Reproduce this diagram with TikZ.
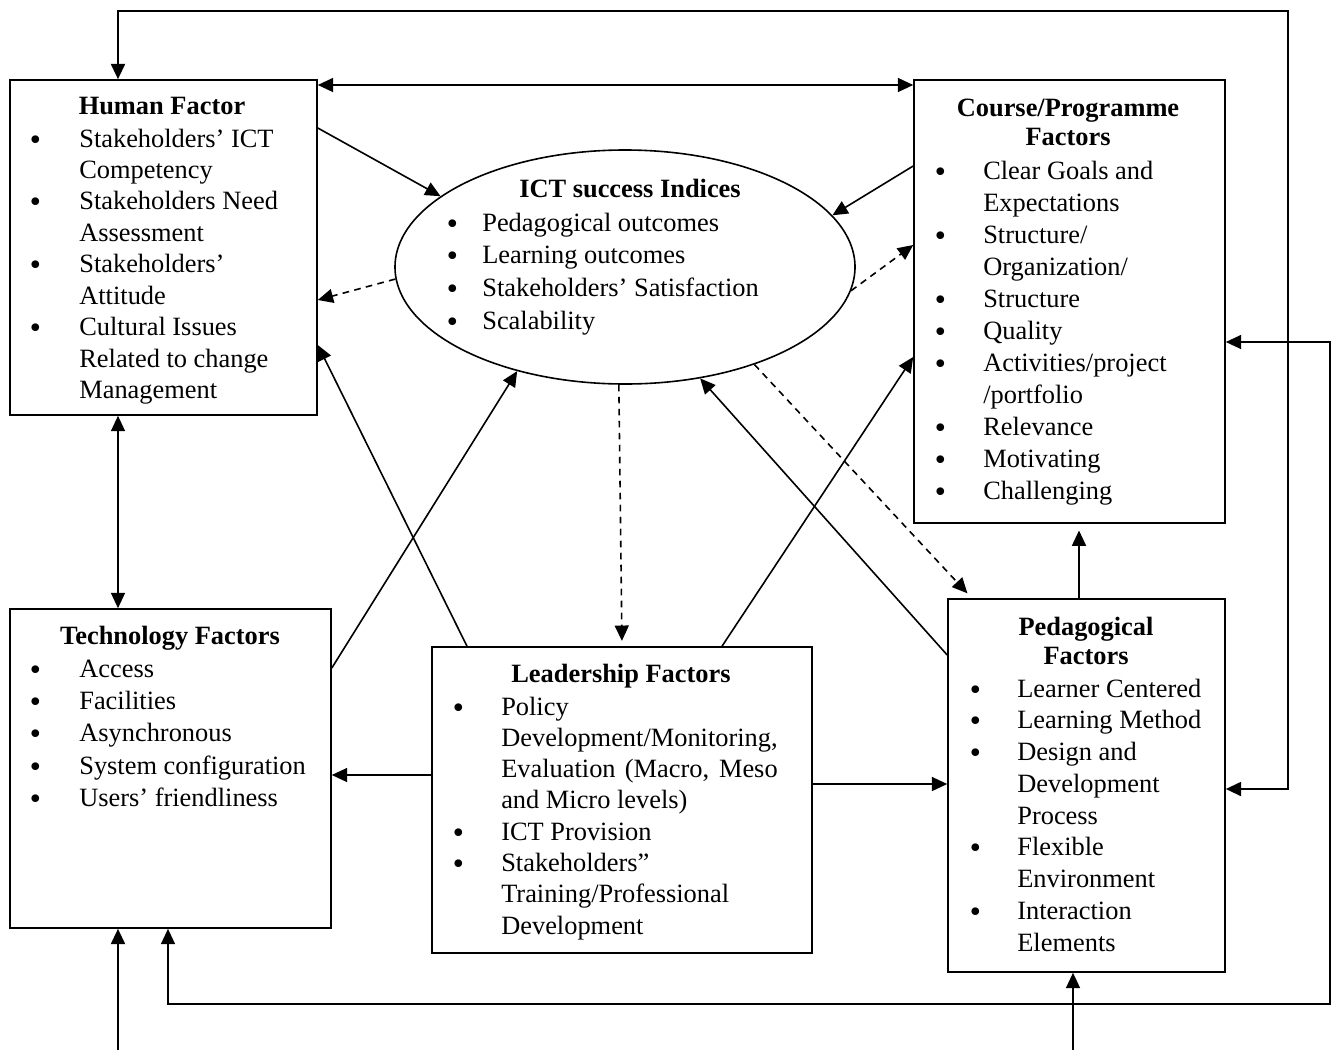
\documentclass[tikz,border=0pt]{standalone}
\usepackage{fontspec}
\setmainfont{Liberation Serif}
\newfontfamily\bulletfont{DejaVu Sans}
\usepackage{calc}
\usetikzlibrary{arrows.meta,shapes.geometric,fit}

% list bullet, a little heavier than the serif one, centred in a 7pt slot
\newcommand\bul{\makebox[7pt]{\raisebox{-1.5pt}{\bulletfont\textbullet}}}
% bullet list set as a two-column tabular: #1 bullet column width, #2 row stretch, #3 rows
\newcommand\bulletlist[3]{{\renewcommand\arraystretch{#2}%
  \begin{tabular}[t]{@{}p{#1}@{}l@{}}#3\end{tabular}}}
% centred (possibly multi-line) heading
\newcommand\headlines[2]{{\renewcommand\arraystretch{#1}%
  \begin{tabular}[t]{@{}c@{}}#2\end{tabular}}}

\begin{document}
\begin{tikzpicture}[x=0.75pt,y=-0.75pt,
  every node/.style={font=\fontsize{19.8}{23.6}\selectfont, inner sep=0pt},
  box/.style={draw, line width=1.2pt, inner sep=0pt},
  link/.style={line width=1.2pt, -{Triangle[length=11.5pt,width=10.5pt]}},
  both/.style={line width=1.2pt, {Triangle[length=11.5pt,width=10.5pt]}-{Triangle[length=11.5pt,width=10.5pt]}},
  dlink/.style={link, dash pattern=on 5pt off 4pt},
  heading/.style={font=\fontsize{19.8}{23.6}\selectfont\bfseries, anchor=base},
  items/.style={anchor=base west}]

\useasboundingbox (0,0) rectangle (1334,1050);

% frames
\node[box, fit={(10,80) (317,415)}] (human) {};
\node[box, fit={(914,80) (1225,523)}] (course) {};
\node[box, ellipse, minimum width=345pt, minimum height=175.5pt] (ict) at (625,267) {};
\node[box, fit={(10,609) (331,928)}] (tech) {};
\node[box, fit={(432,647) (812,953)}] (lead) {};
\node[box, fit={(948,599) (1225,972)}] (ped) {};

% Human Factor
\node[heading] (humanT) at (162,114) {Human Factor};
\node[items] (humanL) at (30.4,147) {\bulletlist{36.5pt}{1}{%
  \bul & Stakeholders’ ICT\\ & Competency\\
  \bul & Stakeholders Need\\ & Assessment\\
  \bul & Stakeholders’\\ & Attitude\\
  \bul & Cultural Issues\\ & Related to change\\ & Management}};

% Course/Programme Factors
\node[heading] (courseT) at (1068,116) {\headlines{0.95}{Course/Programme\\Factors}};
\node[items] (courseL) at (935.4,179) {\bulletlist{35.7pt}{1.017}{%
  \bul & Clear Goals and\\ & Expectations\\
  \bul & Structure/\\ & Organization/\\
  \bul & Structure\\
  \bul & Quality\\
  \bul & Activities/project\\ & /portfolio\\
  \bul & Relevance\\
  \bul & Motivating\\
  \bul & Challenging}};

% ICT success Indices
\node[heading] (ictT) at (630,197) {ICT success Indices};
\node[items] (ictL) at (447.4,231) {\bulletlist{26pt}{1.04}{%
  \bul & Pedagogical outcomes\\
  \bul & Learning outcomes\\
  \bul & Stakeholders’ Satisfaction\\
  \bul & Scalability}};

% Technology Factors
\node[heading] (techT) at (170,644) {Technology Factors};
\node[items] (techL) at (30.4,677) {\bulletlist{36.5pt}{1.03}{%
  \bul & Access\\
  \bul & Facilities\\
  \bul & Asynchronous\\
  \bul & System configuration\\
  \bul & Users’ friendliness}};

% Leadership Factors
\node[heading] (leadT) at (621,682) {Leadership Factors};
\node[items] (leadL) at (453.4,715) {\bulletlist{35.7pt}{0.995}{%
  \bul & Policy\\
  & Development/Monitoring,\\
  & \makebox[\widthof{Development/Monitoring,}][s]{Evaluation (Macro, Meso}\\
  & and Micro levels)\\
  \bul & ICT Provision\\
  \bul & Stakeholders”\\ & Training/Professional\\ & Development}};

% Pedagogical Factors
\node[heading] (pedT) at (1086,635) {\headlines{0.93}{Pedagogical\\Factors}};
\node[items] (pedL) at (970.4,697) {\bulletlist{35pt}{1.01}{%
  \bul & Learner Centered\\
  \bul & Learning Method\\
  \bul & Design and\\ & Development\\ & Process\\
  \bul & Flexible\\ & Environment\\
  \bul & Interaction\\ & Elements}};

% links around the success indices
\draw[both] (human.east |- 0,85) -- (course.west |- 0,85);
\draw[link] (human.east |- 0,128) -- (ict.159);
\draw[link] (course.west |- 0,166) -- (ict.14);
\draw[dlink] (ict.183) -- (human.east |- 0,300);
\draw[dlink] (ict.354) -- (course.west |- 0,245);
\draw[both] (human.south -| 118,0) -- (tech.north -| 118,0);
\draw[link] (tech.east |- 0,668) -- (ict.224);
\draw[link] (lead.north -| 467,0) -- (human.east |- 0,345);
\draw[dlink, shorten >=4pt] (ict.267) -- (lead.north);
\draw[link] (lead.north -| 722,0) -- (course.west |- 0,357);
\draw[link] (ped.west |- 0,655) -- (ict.304);
\draw[dlink, shorten >=5pt] (ict.323) -- (ped.north -| 972,0);
\draw[link] (lead.west |- 0,775) -- (tech.east |- 0,775);
\draw[link] (lead.east |- 0,784) -- (ped.west |- 0,784);
\draw[link, shorten >=5pt] (ped.north -| 1079,0) -- (course.south -| 1079,0);

% feedback loops
\draw[both, line width=1.6pt] (human.north -| 118,0) |- (1288,11) |- (ped.east |- 0,789);
\draw[both] (course.east |- 0,342) -| (1330,1004) -| (tech.south -| 168,0);

% inputs from below
\coordinate (inTech) at (118,1050);
\coordinate (inPed) at (1073,1050);
\draw[link, line width=1.6pt] (inTech) -- (tech.south -| 118,0);
\draw[link] (inPed) -- (ped.south -| 1073,0);
\end{tikzpicture}
\end{document}
